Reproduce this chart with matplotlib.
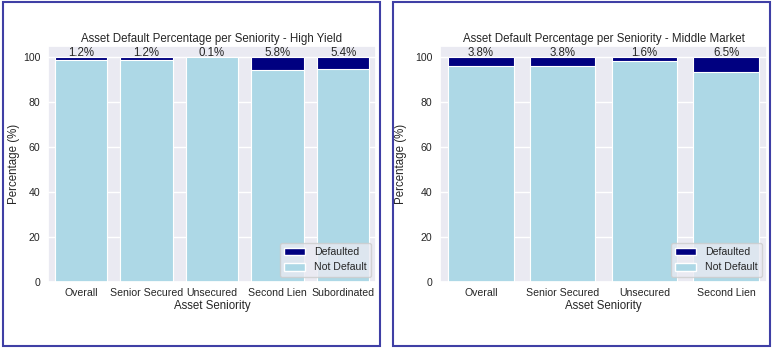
import matplotlib
matplotlib.use("Agg")
import matplotlib.pyplot as plt
import seaborn as sns
from matplotlib.patches import Rectangle, Patch

sns.set_theme(style="darkgrid")
plt.rcParams['font.family'] = ['Liberation Sans', 'DejaVu Sans']

hy_categories = ["Overall", "Senior Secured", "Unsecured", "Second Lien", "Subordinated"]
hy_default_pct = [1.2, 1.2, 0.1, 5.8, 5.4]

mm_categories = ["Overall", "Senior Secured", "Unsecured", "Second Lien"]
mm_default_pct = [3.8, 3.8, 1.6, 6.5]

W, H = 772, 349
fig = plt.figure(figsize=(W / 100, H / 100), dpi=100)
fig.patch.set_facecolor("white")


def px_axes(x0, y0, x1, y1):
    return fig.add_axes([x0 / W, 1 - y1 / H, (x1 - x0) / W, (y1 - y0) / H])


def draw_panel(ax, cats, defaults, title, ylabel_x):
    x = list(range(len(cats)))
    totals = [100.0] * len(cats)
    not_default = [100.0 - d for d in defaults]
    ax.bar(x, totals, width=0.8, color="navy", edgecolor="white", linewidth=0.8)
    ax.bar(x, not_default, width=0.8, color="lightblue", edgecolor="white", linewidth=0.8)
    for xi, d in zip(x, defaults):
        ax.text(xi, 99.3, f"{d}%", ha="center", va="bottom", fontsize=8.3, color="#262626")
    ax.set_xlim(-0.5, len(cats) - 0.5)
    ax.set_ylim(0, 105)
    ax.set_xticks(x)
    ax.set_xticklabels(cats, fontsize=7.6)
    ax.set_yticks([0, 20, 40, 60, 80, 100])
    ax.tick_params(axis="x", labelsize=7.6, length=0, pad=4)
    ax.tick_params(axis="y", labelsize=7.6, length=0, pad=5.5)
    ax.set_xlabel("Asset Seniority", fontsize=8.3, labelpad=2)
    ax.set_ylabel("Percentage (%)", fontsize=8.3)
    ax.yaxis.set_label_coords(ylabel_x, 0.5)
    ax.set_title(title, fontsize=8.3, pad=3)
    handles = [Patch(facecolor="navy", label="Defaulted"), Patch(facecolor="lightblue", label="Not Default")]
    ax.legend(handles=handles, loc="lower right", fontsize=7.6, framealpha=0.8)


ax1 = px_axes(48, 46, 376, 282)
draw_panel(ax1, hy_categories, hy_default_pct,
           "Asset Default Percentage per Seniority - High Yield", -0.085)
ax2 = px_axes(440, 46, 767, 282)
draw_panel(ax2, mm_categories, mm_default_pct,
           "Asset Default Percentage per Seniority - Middle Market", -0.101)

# panel frames
for x0, x1 in [(3, 380), (393, 770)]:
    fig.patches.append(Rectangle((x0 / W, 3 / H), (x1 - x0) / W, (H - 5) / H,
                                 transform=fig.transFigure, fill=False,
                                 edgecolor="#3f3fa5", linewidth=1.5))

fig.savefig("out.png", dpi=100)
